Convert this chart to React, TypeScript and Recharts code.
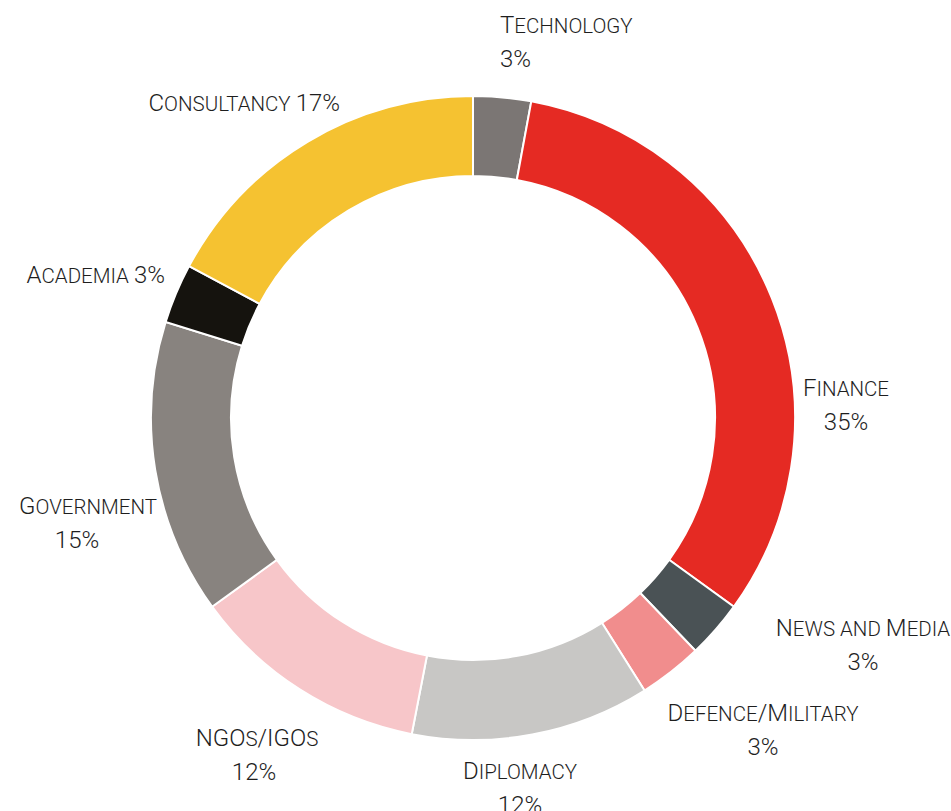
import React from "react";
import { PieChart, Pie, Cell } from "recharts";

// sectors, clockwise from 12 o'clock
const sectors = [
  "Technology",
  "Finance",
  "News and Media",
  "Defence/Military",
  "Diplomacy",
  "NGOs/IGOs",
  "Government",
  "Academia",
  "Consultancy",
];
// share of the ring
const shares = [2.9, 32.1, 2.9, 3.2, 12, 12, 14.8, 3, 17.2];
// percentages printed on the labels
const shareLabels = ["3%", "35%", "3%", "3%", "12%", "12%", "15%", "3%", "17%"];
const colors = [
  "#7b7674",
  "#e52a23",
  "#4a5255",
  "#f18d8d",
  "#c8c7c5",
  "#f7c6c9",
  "#88837f",
  "#15130e",
  "#f5c231",
];

// label placement relative to the ring centre: [dx, dy, anchor, oneLine, line2dx]
const labelLayout: [number, number, "start" | "middle" | "end", boolean, number][] = [
  [27, -385, "start", false, 0],
  [373, -22, "middle", false, 0],
  [390, 218, "middle", false, 0],
  [290, 303, "middle", false, 0],
  [47, 361, "middle", false, 0],
  [-216, 328, "middle", false, -3],
  [-385, 96, "middle", false, -11],
  [-308, -135, "end", true, 0],
  [-133, -307, "end", true, 0],
];

const data = sectors.map((name, i) => ({ name, value: shares[i], pct: shareLabels[i] }));

const FONT = "Roboto, 'Noto Sans', sans-serif";
const SIZE = 24;
const SMALL = 20.5;
const LINE = 34;

// fake small caps: lower-case runs drawn as smaller capitals
function SmallCapsText({ x, y, anchor, text }: { x: number; y: number; anchor: string; text: string }) {
  const runs: { t: string; small: boolean }[] = [];
  for (const ch of text) {
    const small = ch !== ch.toUpperCase();
    const last = runs[runs.length - 1];
    if (ch === " " && last) {
      last.t += ch;
    } else if (last && last.small === small) {
      last.t += ch;
    } else {
      runs.push({ t: ch, small });
    }
  }
  return (
    <text x={x} y={y} textAnchor={anchor as any} fontFamily={FONT} fontWeight={300} fill="#1e1e1e" fontSize={SIZE}>
      {runs.map((r, i) => (
        <tspan key={i} fontSize={r.small ? SMALL : SIZE}>
          {r.small ? r.t.toUpperCase() : r.t}
        </tspan>
      ))}
    </text>
  );
}

const renderLabel = (props: any) => {
  const { cx, cy, index } = props;
  const [dx, dy, anchor, oneLine, l2dx] = labelLayout[index];
  const x = cx + dx;
  const y = cy + dy;
  const d = data[index];
  if (oneLine) {
    return <SmallCapsText key={index} x={x} y={y} anchor={anchor} text={`${d.name} ${d.pct}`} />;
  }
  return (
    <g key={index}>
      <SmallCapsText x={x} y={y} anchor={anchor} text={d.name} />
      <SmallCapsText x={x + l2dx} y={y + LINE} anchor={anchor} text={d.pct} />
    </g>
  );
};

export default function App() {
  return (
    <div style={{ position: "absolute", left: 0, top: 0, background: "#fff" }}>
      <PieChart width={951} height={811} margin={{ top: 0, right: 0, bottom: 0, left: 0 }}>
        <Pie
          data={data}
          dataKey="value"
          nameKey="name"
          cx={473}
          cy={418}
          innerRadius={242}
          outerRadius={322}
          startAngle={90}
          endAngle={-270}
          stroke="#ffffff"
          strokeWidth={2}
          label={renderLabel}
          labelLine={false}
          isAnimationActive={false}
        >
          {data.map((entry, index) => (
            <Cell key={`cell-${index}`} fill={colors[index]} />
          ))}
        </Pie>
      </PieChart>
    </div>
  );
}
